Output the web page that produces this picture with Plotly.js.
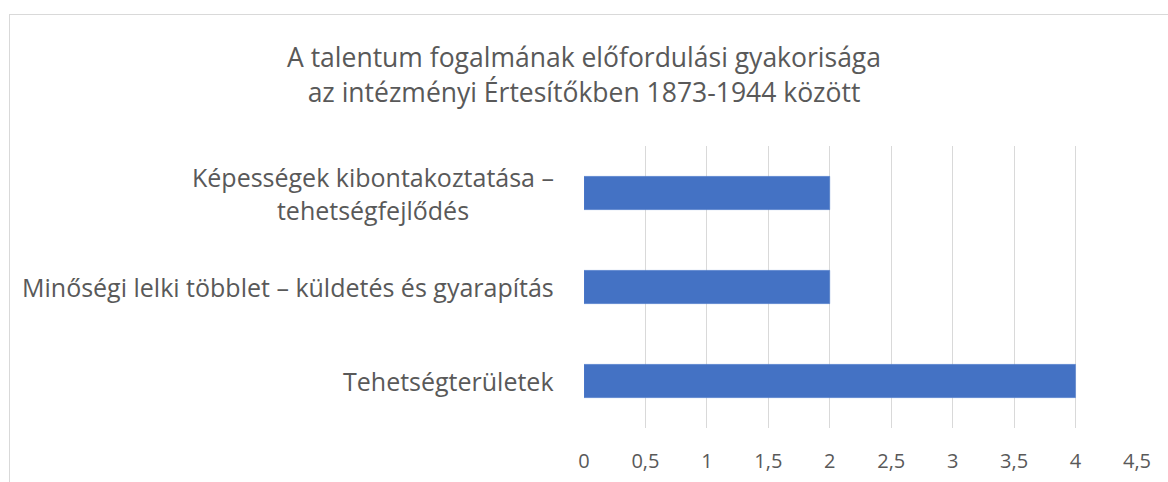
<!DOCTYPE html>
<html><head><meta charset="utf-8">
<script src="https://cdn.plot.ly/plotly-3.0.1.min.js"></script>
<style>
html,body{margin:0;padding:0;background:#fff;}
#wrap{position:relative;width:1168px;height:482px;overflow:hidden;}
#chart{width:1168px;height:482px;}
#frame{position:absolute;left:9px;top:14px;width:1200px;height:500px;border-left:1px solid #d9d9d9;border-top:1px solid #d9d9d9;pointer-events:none;}
</style></head>
<body><div id="wrap"><div id="chart"></div><div id="frame"></div></div>
<script>
const categories = ["Tehetségterületek", "Minőségi lelki többlet – küldetés és gyarapítás", "Képességek kibontakoztatása –<br>tehetségfejlődés"];
const values = [4, 2, 2];
const tickVals = [0, 0.5, 1, 1.5, 2, 2.5, 3, 3.5, 4, 4.5];
const tickText = ["0", "0,5", "1", "1,5", "2", "2,5", "3", "3,5", "4", "4,5"];
const titleText = "A talentum fogalmának előfordulási gyakorisága<br>az intézményi Értesítőkben 1873-1944 között";

const font = "Open Sans, sans-serif";
const annotations = categories.map(c => ({
  xref: 'paper', yref: 'y', x: 0, y: c, xshift: -28,
  xanchor: 'right', yanchor: 'middle', align: 'center',
  text: c, showarrow: false,
  font: {family: font, size: 25, color: '#595959'}
}));

Plotly.newPlot('chart', [{
  type: 'bar', orientation: 'h', y: categories, x: values,
  marker: {color: '#4472c4', line: {color: '#5b87d1', width: 0.5}},
  hoverinfo: 'none'
}], {
  width: 1168, height: 482,
  margin: {l: 584, r: 30.5, t: 146, b: 53.7},
  paper_bgcolor: '#fff', plot_bgcolor: '#fff',
  bargap: 0.646,
  showlegend: false,
  title: {text: titleText, x: 0.5, xanchor: 'center', y: 0.86, yanchor: 'middle',
    font: {family: font, size: 26.5, color: '#595959'}},
  xaxis: {range: [0, 4.5], tickvals: tickVals, ticktext: tickText,
    showgrid: true, gridcolor: '#d9d9d9', gridwidth: 1, zeroline: false,
    showline: false, ticks: '', ticklabelstandoff: 19,
    tickfont: {family: font, size: 20, color: '#595959'}},
  yaxis: {showticklabels: false, showgrid: false, zeroline: false, showline: false, ticks: ''},
  annotations: annotations
}, {displayModeBar: false, staticPlot: true});
</script></body></html>
